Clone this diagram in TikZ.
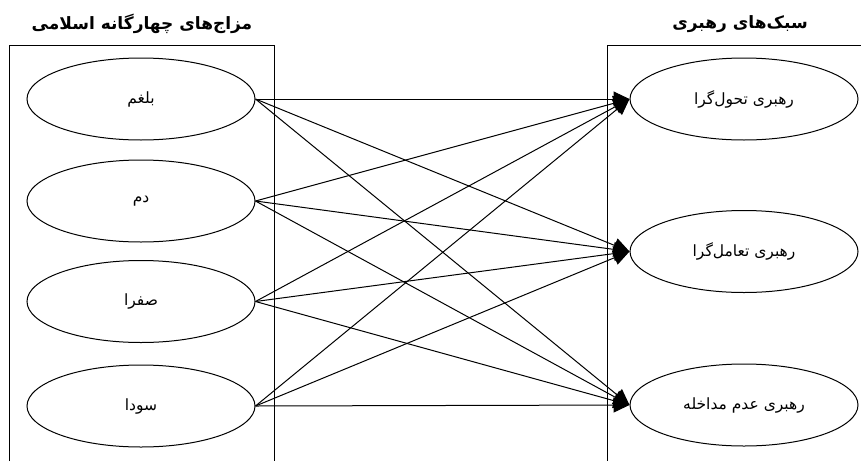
\documentclass[tikz,border=0pt]{standalone}
\usepackage{fontspec}
\usetikzlibrary{shapes.geometric,arrows.meta}
\TeXXeTstate=1
\newfontfamily\arabicfont[Script=Arabic]{DejaVu Sans}
\tikzset{
  oval/.style={ellipse, draw, line width=1pt, minimum width=228pt, minimum height=82pt, inner sep=0pt, font=\arabicfont\fontsize{15.5}{18}\selectfont},
  link/.style={line width=1pt, -{Triangle[length=16pt,width=15pt]}},
  frame/.style={line width=1pt},
  heading/.style={font=\arabicfont\bfseries\fontsize{17}{20}\selectfont}
}
\begin{document}
\begin{tikzpicture}[x=1pt,y=-1pt]
\useasboundingbox (0,0) rectangle (861,461);
\fill[white] (0,0) rectangle (861,461);
% frames
\draw[frame] (9,461) -- (9,45.5) -- (274,45.5) -- (274,461);
\draw[frame] (861,45.5) -- (607.5,45.5) -- (607.5,461);
% headings
\node[heading] (h1) at (142,24) {\beginR مزاج‌های چهارگانه اسلامی\endR};
\node[heading] (h2) at (740,24) {\beginR سبک‌های رهبری\endR};
% left nodes
\node[oval] (l1) at (141,99) {\beginR بلغم\endR};
\node[oval] (l2) at (141,201) {\beginR دم\endR};
\node[oval] (l3) at (141,301.5) {\beginR صفرا\endR};
\node[oval] (l4) at (141,406) {\beginR سودا\endR};
% right nodes
\node[oval] (r1) at (744,99) {\beginR رهبری تحول‌گرا\endR};
\node[oval] (r2) at (744,251.5) {\beginR رهبری تعامل‌گرا\endR};
\node[oval] (r3) at (744,405) {\beginR رهبری عدم مداخله\endR};
% connectors
\foreach \a in {l1,l2,l3,l4}{
  \foreach \b in {r1,r2,r3}{
    \draw[link] (\a.east) -- (\b.west);
  }
}
\end{tikzpicture}
\end{document}
